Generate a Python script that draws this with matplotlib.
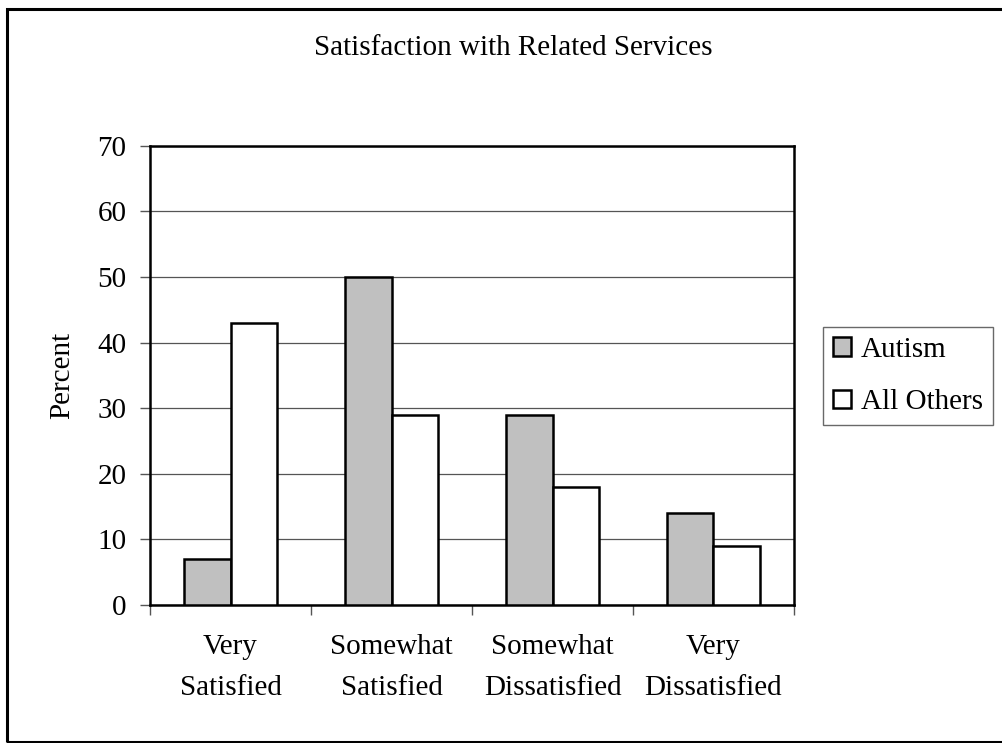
import numpy as np
import matplotlib
matplotlib.use("Agg")
import matplotlib.pyplot as plt
from matplotlib.patches import Rectangle, Patch

plt.rcParams['font.family'] = ['Liberation Serif', 'DejaVu Serif']

categories = ["Very\nSatisfied", "Somewhat\nSatisfied", "Somewhat\nDissatisfied", "Very\nDissatisfied"]
autism = [7, 50, 29, 14]
all_others = [43, 29, 18, 9]
yticks = [0, 10, 20, 30, 40, 50, 60, 70]

fs = 21

fig = plt.figure(figsize=(10.03, 7.43), dpi=100)
ax = fig.add_axes([0.1496, 0.1857, 0.6420, 0.6183])

x = np.arange(len(categories))
w = 0.29
ax.bar(x - w / 2, autism, w, color='#C0C0C0', edgecolor='black', linewidth=1.8, label='Autism', zorder=3)
ax.bar(x + w / 2, all_others, w, color='white', edgecolor='black', linewidth=1.8, label='All Others', zorder=3)

ax.set_xlim(-0.5, len(categories) - 0.5)
ax.set_ylim(0, 70)
ax.set_yticks(yticks)
ax.yaxis.grid(True, color='#555555', linewidth=0.9, zorder=0)

# category ticks sit between groups, labels in the middle
ax.set_xticks(np.arange(len(categories) + 1) - 0.5)
ax.set_xticklabels([])
ax.set_xticks(x, minor=True)
ax.set_xticklabels(categories, minor=True, fontsize=fs, linespacing=1.75)
ax.tick_params(axis='x', which='minor', length=0, pad=21)
ax.tick_params(axis='x', which='major', length=7, width=1, color='#555555')
ax.tick_params(axis='y', length=7, width=1, color='#555555', labelsize=fs, pad=10)

for s in ax.spines.values():
    s.set_linewidth(1.8)
    s.set_color('black')

ax.set_ylabel('Percent', fontsize=fs, labelpad=16)
fig.text(0.512, 0.935, 'Satisfaction with Related Services', ha='center', va='center', fontsize=fs)

handles = [Patch(facecolor='#C0C0C0', edgecolor='black', linewidth=1.8),
           Patch(facecolor='white', edgecolor='black', linewidth=1.8)]
leg = fig.legend(handles, ['Autism', 'All Others'], loc='center left',
                 bbox_to_anchor=(0.8205, 0.494), fontsize=fs, frameon=True, fancybox=False,
                 handlelength=0.6, handleheight=0.6, handletextpad=0.35,
                 labelspacing=0.9, borderpad=0.35, borderaxespad=0)
leg.get_frame().set_edgecolor('#444444')
leg.get_frame().set_linewidth(1.0)

# outer chart border
fig.patches.append(Rectangle((7.5 / 1003, 1.5 / 743), 1.0, 1 - 10 / 743, transform=fig.transFigure,
                             fill=False, edgecolor='black', linewidth=2.2))

fig.savefig('out.png', dpi=100)
